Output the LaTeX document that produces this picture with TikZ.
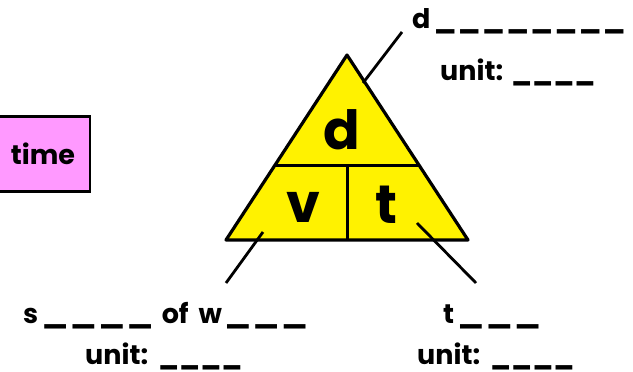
\documentclass[tikz,border=0pt]{standalone}
\usepackage{fontspec}
\setmainfont{Poppins}
\usepackage{graphicx}
\usepackage{tikz}
\usetikzlibrary{calc}

\definecolor{boxpink}{RGB}{255,153,255}
\newcommand{\blank}{\scalebox{1.1}[1]{\_}\hspace{1pt}}
\newcommand{\wblank}{\scalebox{1.3}[1]{\_}\hspace{1pt}}
\newcommand{\lastblank}[1]{\scalebox{#1}[1]{\_}}

\begin{document}
\begin{tikzpicture}[x=1pt, y=-1pt,
    every node/.style={inner sep=0pt, font=\bfseries\fontsize{27}{30}\selectfont},
    big/.style={font=\bfseries\fontsize{54}{60}\selectfont},
    link/.style={line width=2.8pt}]
  \useasboundingbox (0,0) rectangle (633,372);

  \coordinate (top) at (347,55);
  \coordinate (bl) at (226,240);
  \coordinate (br) at (468,240);
  \coordinate (ml) at ($(top)!0.595!(bl)$);
  \coordinate (mr) at ($(top)!0.595!(br)$);
  \coordinate (mid) at (347,165);
  \coordinate (bot) at (347,240);

  % triangle
  \filldraw[fill=yellow, line width=3.2pt, line join=round] (top) -- (bl) -- (br) -- cycle;
  \draw[line width=3pt] (ml) -- (mr);
  \draw[line width=3pt] (mid) -- (bot);

  \node[big] (d) at (342,130) {d};
  \node[big] (v) at (303,207) {v};
  \node[big] (t) at (386,205) {t};

  % time box
  \node[draw, line width=2.5pt, fill=boxpink, minimum width=94pt, minimum height=75pt] (time) at (43,154) {time};

  % labels
  \node[anchor=base west] (dlab) at (412,28) {d\hspace{3pt}\blank\blank\blank\blank\blank\blank\blank\lastblank{1.1}};
  \node[anchor=base west] (dunit) at (440,80) {unit:\hspace{8pt}\_\_\_\_};
  \node[anchor=base west] (slab) at (23,323) {s\hspace{3pt}\wblank\wblank\wblank\lastblank{1.3}\hspace{8pt}of\hspace{10pt}w\hspace{2pt}\wblank\wblank\lastblank{1.3}};
  \node[anchor=base west] (sunit) at (85,364) {unit:\hspace{10pt}\_\_\_\_};
  \node[anchor=base west] (tlab) at (443,323) {t\hspace{3pt}\wblank\wblank\lastblank{1.3}};
  \node[anchor=base west] (tunit) at (417,364) {unit:\hspace{10pt}\_\_\_\_};

  % connectors
  \coordinate (dend) at (402,32);
  \coordinate (dstart) at (363,83);
  \coordinate (send) at (226,283);
  \coordinate (sstart) at (263,232);
  \coordinate (tend) at (476,283);
  \coordinate (tstart) at (417,223);
  \draw[link] (dstart) -- (dend);
  \draw[link] (sstart) -- (send);
  \draw[link] (tstart) -- (tend);
\end{tikzpicture}
\end{document}
